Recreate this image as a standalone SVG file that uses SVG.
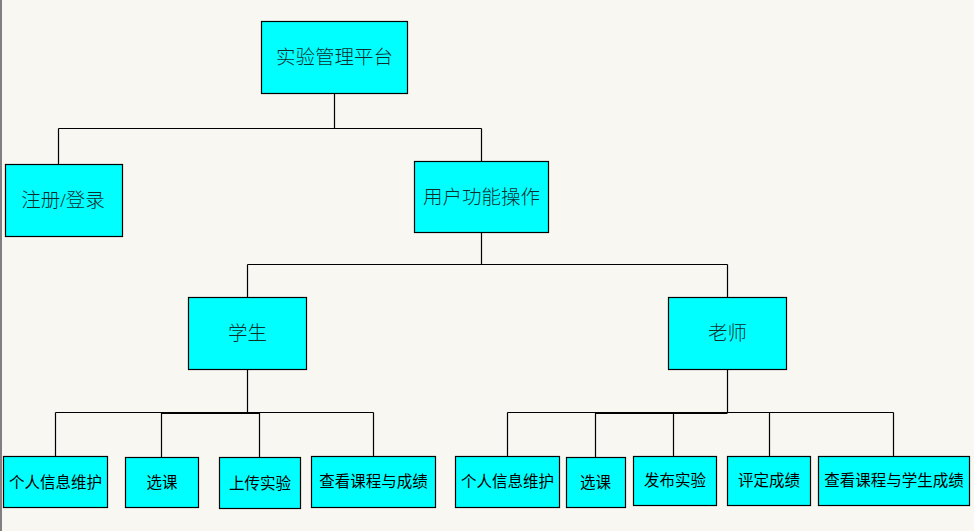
<svg xmlns="http://www.w3.org/2000/svg" width="974" height="531" viewBox="0 0 974 531">
  <style>
    .box { fill: #00FFFF; stroke: #000; stroke-width: 1.2; }
    .big { font-family: "Liberation Serif", "Noto Sans CJK SC", serif; font-size: 19.5px; font-weight: 300; fill: #0b2f2f; text-anchor: middle; dominant-baseline: central; }
    .small { font-family: "Noto Sans CJK SC", sans-serif; font-size: 15.5px; fill: #000; text-anchor: middle; dominant-baseline: central; }
    .wire { fill: none; stroke: #000; stroke-width: 1.2; }
  </style>
  <rect width="974" height="531" fill="#F9F7F1"/>
  <rect x="0" y="0" width="2" height="531" fill="#808080"/>

  <g id="connectors">
    <path class="wire" d="M334.5 93.5V128.5M58.5 128.5H481.5M58.5 128.5V164.5M481.5 128.5V161.5"/>
    <path class="wire" d="M481.5 232.5V264.5M247.5 264.5H727.5M247.5 264.5V297.5M727.5 264.5V297.5"/>
    <path class="wire" d="M247.5 369.5V412.5M55.5 412.5H373.5M55.5 412.5V456.5M161.5 412.5V457.5M259.5 412.5V457.5M373.5 412.5V456.5M161.5 413.5H259.5"/>
    <path class="wire" d="M727.5 369.5V412.5M507.5 412.5H893.5M507.5 412.5V456.5M595.5 412.5V457.5M673.5 412.5V456.5M769.5 412.5V456.5M893.5 412.5V456.5M595.5 413.5H727.5"/>
  </g>

  <g id="platform">
    <rect class="box" x="261.5" y="21.5" width="146" height="72"/>
    <text class="big" x="334.5" y="57.5">实验管理平台</text>
  </g>
  <g id="login">
    <rect class="box" x="5.5" y="164.5" width="117" height="72"/>
    <text class="big" x="63" y="200">注册/登录</text>
  </g>
  <g id="user-ops">
    <rect class="box" x="414.5" y="161.5" width="134" height="71"/>
    <text class="big" x="481.5" y="197">用户功能操作</text>
  </g>
  <g id="student">
    <rect class="box" x="188.5" y="297.5" width="118" height="72"/>
    <text class="big" x="247.5" y="333">学生</text>
  </g>
  <g id="teacher">
    <rect class="box" x="668.5" y="297.5" width="118" height="72"/>
    <text class="big" x="727.5" y="333">老师</text>
  </g>

  <g id="s-profile">
    <rect class="box" x="3.5" y="456.5" width="104" height="51"/>
    <text class="small" x="55.5" y="481">个人信息维护</text>
  </g>
  <g id="s-course">
    <rect class="box" x="125.5" y="457.5" width="73" height="50"/>
    <text class="small" x="162" y="481">选课</text>
  </g>
  <g id="s-upload">
    <rect class="box" x="219.5" y="457.5" width="81" height="51"/>
    <text class="small" x="260" y="482">上传实验</text>
  </g>
  <g id="s-grades">
    <rect class="box" x="311.5" y="456.5" width="124" height="51"/>
    <text class="small" x="373.5" y="480">查看课程与成绩</text>
  </g>

  <g id="t-profile">
    <rect class="box" x="455.5" y="456.5" width="104" height="51"/>
    <text class="small" x="507.5" y="480">个人信息维护</text>
  </g>
  <g id="t-course">
    <rect class="box" x="566.5" y="457.5" width="59" height="50"/>
    <text class="small" x="595.5" y="481">选课</text>
  </g>
  <g id="t-publish">
    <rect class="box" x="633.5" y="456.5" width="83" height="49"/>
    <text class="small" x="675" y="479">发布实验</text>
  </g>
  <g id="t-assess">
    <rect class="box" x="727.5" y="456.5" width="83" height="49"/>
    <text class="small" x="769" y="479">评定成绩</text>
  </g>
  <g id="t-grades">
    <rect class="box" x="818.5" y="456.5" width="151" height="49"/>
    <text class="small" x="894" y="479">查看课程与学生成绩</text>
  </g>
</svg>
